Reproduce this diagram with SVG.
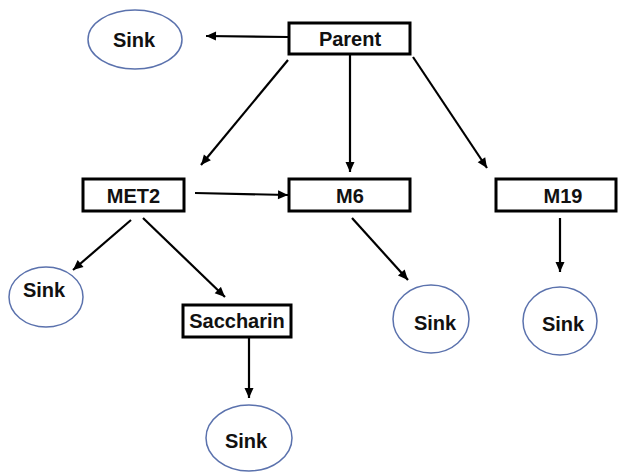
<svg xmlns="http://www.w3.org/2000/svg" width="619" height="472" viewBox="0 0 619 472">
<defs>
<marker id="ah" viewBox="0 0 10 10" refX="10" refY="5" markerWidth="11" markerHeight="10" markerUnits="userSpaceOnUse" orient="auto">
<path d="M0,0.5 L10,5 L0,9.5 Z" fill="#000"/>
</marker>
<style>
.box{fill:#fff;stroke:#000;stroke-width:3}
.sink{fill:#fff;stroke:#5b72ad;stroke-width:1.5}
.lbl{font-family:"Liberation Sans",Arial,sans-serif;font-weight:bold;font-size:20px;fill:#111;text-anchor:middle}
.edge{stroke:#000;stroke-width:2.2;fill:none;marker-end:url(#ah)}
</style>
</defs>
<rect width="619" height="472" fill="#fff"/>
<g id="connectors">
<line class="edge" x1="288" y1="37" x2="206" y2="36"/>
<line class="edge" x1="288" y1="60" x2="201" y2="165"/>
<line class="edge" x1="350" y1="55" x2="350" y2="172"/>
<line class="edge" x1="413" y1="57" x2="487" y2="168"/>
<line class="edge" x1="195" y1="193" x2="288" y2="195"/>
<line class="edge" x1="131" y1="220" x2="73" y2="270"/>
<line class="edge" x1="143" y1="218" x2="225" y2="297"/>
<line class="edge" x1="352" y1="218" x2="408" y2="280"/>
<line class="edge" x1="560" y1="218" x2="560" y2="272"/>
<line class="edge" x1="249" y1="338" x2="249" y2="398"/>
</g>
<g id="sink-top">
<ellipse class="sink" cx="135" cy="39.5" rx="47" ry="29.5"/>
<text class="lbl" x="134" y="47">Sink</text>
</g>
<g id="parent">
<rect class="box" x="289" y="23" width="121" height="31"/>
<text class="lbl" x="350" y="46">Parent</text>
</g>
<g id="met2">
<rect class="box" x="83" y="179" width="101" height="32"/>
<text class="lbl" x="133.5" y="203">MET2</text>
</g>
<g id="m6">
<rect class="box" x="289" y="179" width="121" height="32"/>
<text class="lbl" x="350" y="203">M6</text>
</g>
<g id="m19">
<rect class="box" x="496" y="179" width="120" height="32"/>
<text class="lbl" x="563" y="203">M19</text>
</g>
<g id="sink-met2">
<ellipse class="sink" cx="46" cy="297" rx="37" ry="30"/>
<text class="lbl" x="44" y="297">Sink</text>
</g>
<g id="saccharin">
<rect class="box" x="183" y="305" width="108" height="32"/>
<text class="lbl" x="237" y="328">Saccharin</text>
</g>
<g id="sink-m6">
<ellipse class="sink" cx="431" cy="319" rx="38" ry="34"/>
<text class="lbl" x="435" y="330">Sink</text>
</g>
<g id="sink-m19">
<ellipse class="sink" cx="560" cy="321" rx="37" ry="34"/>
<text class="lbl" x="563" y="331">Sink</text>
</g>
<g id="sink-saccharin">
<ellipse class="sink" cx="249" cy="438" rx="43" ry="33"/>
<text class="lbl" x="246" y="448">Sink</text>
</g>
</svg>
